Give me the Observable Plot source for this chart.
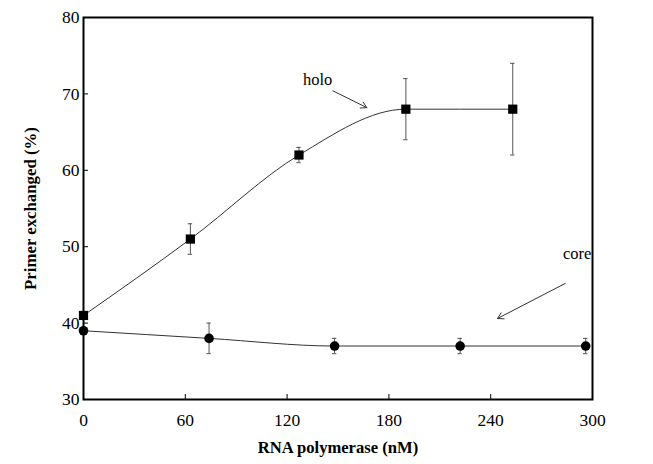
<!DOCTYPE html>
<html><head><meta charset="utf-8">
<script src="https://cdn.jsdelivr.net/npm/d3@7"></script>
<script src="https://cdn.jsdelivr.net/npm/@observablehq/plot@0.6"></script>
<style>body{margin:0;background:#fff}</style>
</head><body><div id="chart"></div>
<script>
// holo series (x positions read against the printed axis)
const holoX = [0, 63, 127, 190, 253];
const holoY = [41, 51, 62, 68, 68];
const holoErr = [0, 2, 1, 4, 6];
// core series
const coreX = [0, 74, 148, 222, 296];
const coreY = [39, 38, 37, 37, 37];
const coreErr = [0, 2, 1, 1, 1];
const xTicks = [0, 60, 120, 180, 240, 300];
const yTicks = [30, 40, 50, 60, 70, 80];
// annotation labels and arrows (data coords)
const labels = [{x: 138, y: 71.8, text: "holo"}, {x: 291, y: 49.1, text: "core"}];
const arrows = [{x1: 147, y1: 70.4, x2: 167, y2: 68.2}, {x1: 284, y1: 45.2, x2: 244, y2: 40.6}];

const holo = holoX.map((x, i) => ({x, y: holoY[i], e: holoErr[i]}));
const core = coreX.map((x, i) => ({x, y: coreY[i], e: coreErr[i]}));
const errs = [...holo, ...core].filter(d => d.e > 0);
const cap = 1.3;
const font = "'Liberation Serif', 'DejaVu Serif', serif";

const chart = Plot.plot({
  width: 653, height: 464,
  marginLeft: 83, marginRight: 61, marginTop: 17, marginBottom: 65,
  style: {fontFamily: font, fontSize: "17px", color: "#000", background: "#fff"},
  x: {domain: [0, 300]},
  y: {domain: [30, 80]},
  marks: [
    Plot.axisX({ticks: xTicks, tickSize: -5, tickPadding: 19, label: null, fontSize: 17.5}),
    Plot.axisY({ticks: yTicks, tickSize: -5, tickPadding: 9, label: null, fontSize: 17.5}),
    Plot.text(["RNA polymerase (nM)"], {frameAnchor: "bottom", dy: 53, fontWeight: "bold", fontSize: 16.6}),
    Plot.text(["Primer exchanged (%)"], {frameAnchor: "left", textAnchor: "middle", dx: -53, rotate: -90, fontWeight: "bold", fontSize: 16.8}),
    Plot.ruleX(errs, {x: "x", y1: d => d.y - d.e, y2: d => d.y + d.e, stroke: "#555", strokeWidth: 1}),
    Plot.ruleY(errs, {y: d => d.y - d.e, x1: d => d.x - cap, x2: d => d.x + cap, stroke: "#555"}),
    Plot.ruleY(errs, {y: d => d.y + d.e, x1: d => d.x - cap, x2: d => d.x + cap, stroke: "#555"}),
    Plot.line(holo, {x: "x", y: "y", curve: "monotone-x", stroke: "#333", strokeWidth: 1}),
    Plot.line(core, {x: "x", y: "y", curve: "monotone-x", stroke: "#333", strokeWidth: 1}),
    Plot.dot(holo, {x: "x", y: "y", symbol: "square", r: 5.2, fill: "#000", stroke: null}),
    Plot.dot(core, {x: "x", y: "y", symbol: "circle", r: 4.8, fill: "#000", stroke: null}),
    Plot.arrow(arrows, {x1: "x1", y1: "y1", x2: "x2", y2: "y2", stroke: "#333", strokeWidth: 1, headLength: 10}),
    Plot.text(labels, {x: "x", y: "y", text: "text", fontSize: 16.5}),
    Plot.frame({stroke: "#000", strokeWidth: 2})
  ]
});
document.getElementById("chart").append(chart);
</script>
</body></html>
